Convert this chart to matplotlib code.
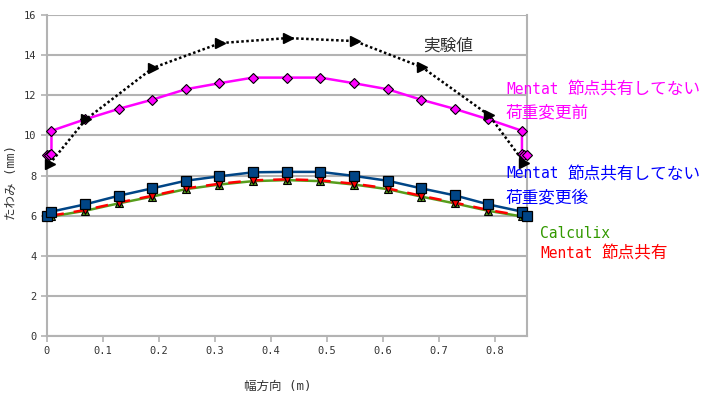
import matplotlib
matplotlib.use("Agg")
import matplotlib.pyplot as plt

plt.rcParams['font.family'] = ['DejaVu Sans Mono', 'Noto Sans CJK JP']

# Experiment (実験値)
exp_x = [0.005, 0.07, 0.19, 0.31, 0.43, 0.55, 0.67, 0.79, 0.853]
exp_y = [8.57, 10.8, 13.37, 14.6, 14.85, 14.7, 13.4, 11.0, 8.62]

# Mentat, no shared nodes, before load change
mag_x = [0.0, 0.004, 0.0085, 0.0085, 0.0685, 0.1285, 0.1885, 0.2485, 0.3085, 0.3685,
         0.4285, 0.4885, 0.5485, 0.6085, 0.6685, 0.7285, 0.7885, 0.8485, 0.8485, 0.853, 0.857]
mag_y = [9.0, 9.02, 9.05, 10.23, 10.8, 11.32, 11.78, 12.3, 12.6, 12.88,
         12.88, 12.88, 12.6, 12.3, 11.78, 11.32, 10.8, 10.23, 9.05, 9.02, 9.0]

# Mentat, no shared nodes, after load change
blu_x = [0.0, 0.0085, 0.0685, 0.1285, 0.1885, 0.2485, 0.3085, 0.3685,
         0.4285, 0.4885, 0.5485, 0.6085, 0.6685, 0.7285, 0.7885, 0.8485, 0.857]
blu_y = [5.97, 6.2, 6.56, 6.99, 7.36, 7.74, 7.96, 8.16,
         8.18, 8.18, 7.98, 7.74, 7.36, 7.01, 6.56, 6.2, 5.97]

# Calculix
grn_x = [0.0085, 0.0685, 0.1285, 0.1885, 0.2485, 0.3085, 0.3685,
         0.4285, 0.4885, 0.5485, 0.6085, 0.6685, 0.7285, 0.7885, 0.8485]
grn_y = [5.96, 6.24, 6.61, 6.95, 7.32, 7.55, 7.72, 7.77, 7.72, 7.55, 7.32, 6.95, 6.61, 6.24, 5.96]

# Mentat shared nodes
red_x = grn_x
red_y = [6.0, 6.28, 6.65, 6.99, 7.36, 7.59, 7.76, 7.81, 7.76, 7.59, 7.36, 6.99, 6.65, 6.28, 6.0]

x_ticks = [0, 0.1, 0.2, 0.3, 0.4, 0.5, 0.6, 0.7, 0.8]
x_tick_labels = ['0', '0.1', '0.2', '0.3', '0.4', '0.5', '0.6', '0.7', '0.8']
y_ticks = [0, 2, 4, 6, 8, 10, 12, 14, 16]

W, H = 703, 398
fig = plt.figure(figsize=(W / 100, H / 100), dpi=100)
ax = fig.add_axes([46.7/W, 1 - 336/H, (526.7-46.7)/W, (336-15)/H])

grid_c = '#b3b3b3'
ax.set_xlim(0, 0.857)
ax.set_ylim(0, 16)
ax.set_yticks(y_ticks)
ax.set_yticklabels([str(v) for v in y_ticks])
ax.set_xticks(x_ticks)
ax.set_xticklabels(x_tick_labels)
ax.yaxis.grid(True, color=grid_c, linewidth=1.5)
ax.set_axisbelow(True)
for s in ['left', 'bottom', 'right']:
    ax.spines[s].set_color(grid_c)
    ax.spines[s].set_linewidth(1.5)
ax.spines['top'].set_visible(False)
ax.tick_params(axis='both', colors=grid_c, labelcolor='#333333', labelsize=7.5,
               length=4, width=1.2)

ax.plot(grn_x, grn_y, color='#579d1c', lw=1.8, marker='^', ms=6,
        mfc='#579d1c', mec='black', mew=0.8, zorder=3)
ax.plot(red_x, red_y, color='#ff0000', lw=1.8, ls=(0, (5, 4)), marker='v', ms=6,
        mfc='#ff0000', mec='black', mew=0.8, zorder=4)
ax.plot(blu_x, blu_y, color='#004586', lw=1.8, marker='s', ms=7,
        mfc='#004586', mec='black', mew=0.9, zorder=5, clip_on=False)
ax.plot(mag_x, mag_y, color='#ff00ff', lw=1.8, marker='D', ms=5,
        mfc='#ff00ff', mec='black', mew=0.8, zorder=5, clip_on=False)
ax.plot(exp_x, exp_y, color='black', lw=1.8, ls=(0, (1, 1)), marker='>', ms=7,
        mfc='black', mec='black', zorder=6, clip_on=False)

ax.set_xlabel('幅方向 (m)', fontsize=9, color='#333333')
ax.xaxis.set_label_coords((278 - 46.7) / 480, -(380 - 336) / 321)
ax.set_ylabel('たわみ (mm)', fontsize=9, color='#333333')
ax.yaxis.set_label_coords(-(46.7 - 18) / 480, (336 - 183) / 321)


def label(x, y, mono, cjk, color):
    t = fig.text(x / W, 1 - y / H, mono, fontsize=10.5, color=color, va='center',
                 family='DejaVu Sans Mono')
    if cjk:
        fig.canvas.draw()
        bb = t.get_window_extent()
        off = 8.8 if mono else 0
        fig.text((bb.x1 + off) / W if mono else x / W, 1 - y / H, cjk, fontsize=12,
                 color=color, va='center', family='Noto Sans CJK JP')


fig.text(423 / W, 1 - 46 / H, '実験値', fontsize=12, color='#333333', va='center',
         family='Noto Sans CJK JP')
label(506, 89, 'Mentat', '節点共有してない', '#ff00ff')
label(506, 113, '', '荷重変更前', '#ff00ff')
label(506, 174, 'Mentat', '節点共有してない', '#0000ff')
label(506, 198, '', '荷重変更後', '#0000ff')
label(540, 234, 'Calculix', '', '#339900')
label(540, 253, 'Mentat', '節点共有', '#ff0000')

fig.savefig('out.png', dpi=100)
